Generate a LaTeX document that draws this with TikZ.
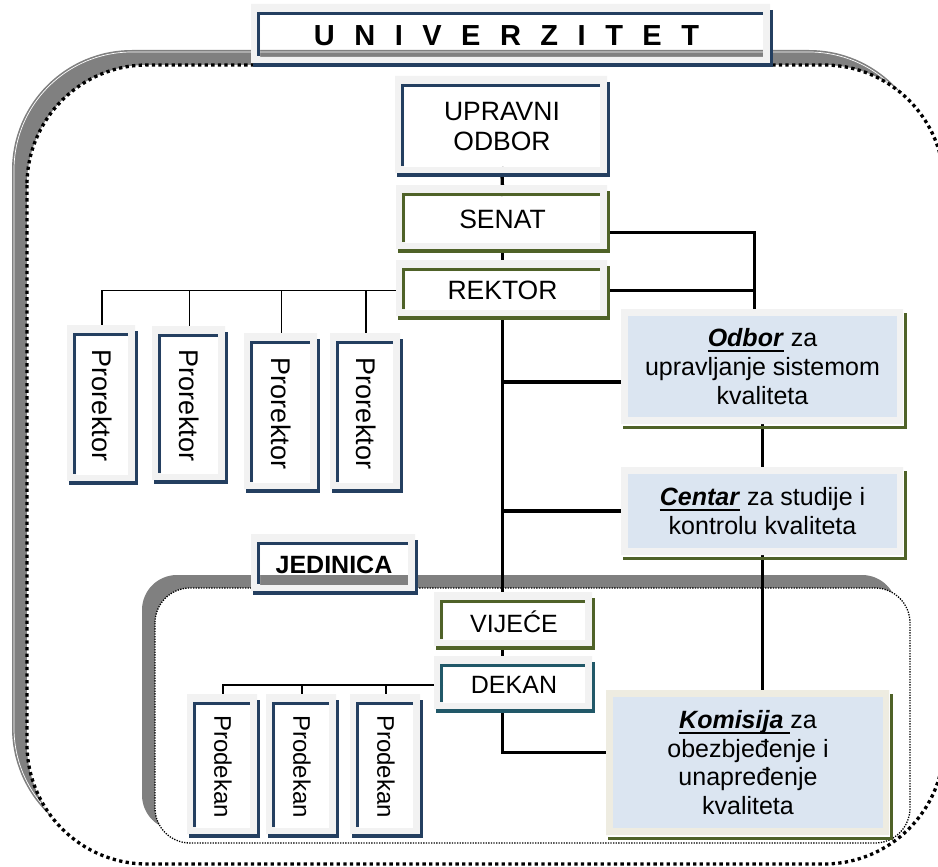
\documentclass[tikz,border=0pt]{standalone}
\usepackage{fontspec}
\setmainfont{Liberation Sans}
\usepackage{graphicx}
\usetikzlibrary{calc}
\pgfdeclarelayer{frames}
\pgfdeclarelayer{conn}
\pgfdeclarelayer{deco}
\pgfsetlayers{frames,conn,deco,main}
\definecolor{navy}{HTML}{243F60}
\definecolor{olivegr}{HTML}{4F6228}
\definecolor{tealdk}{HTML}{215868}
\definecolor{lgray}{HTML}{F2F2F2}
\definecolor{beige}{HTML}{EEECE1}
\definecolor{lblue}{HTML}{DBE5F1}
\definecolor{bandgray}{HTML}{808080}
\newsavebox\ulbox
\newcommand\myul[1]{\sbox\ulbox{#1}\rlap{\rule[-5.5pt]{\wd\ulbox}{2.2pt}}\usebox\ulbox}
\newcommand\unigap{\kern19.5pt}
\newcommand\boxdeco[2]{%
 \fill[lgray, even odd rule] ($(#1.north west)+(-9,-11)$) rectangle ($(#1.south east)+(7,6)$) (#1.north west) rectangle (#1.south east);
 \draw[#2, line width=3pt] ($(#1.north west)+(-3,-1.5)$) -- ($(#1.north east)+(0,-1.5)$);
 \draw[#2, line width=3pt] ($(#1.north west)+(-1.5,-3)$) -- ($(#1.south west)+(-1.5,-1)$);
 \draw[#2, line width=3.5pt] ($(#1.north east)+(8.5,-5)$) -- ($(#1.south east)+(8.5,10)$);
 \draw[#2, line width=4pt] ($(#1.south west)+(-7,8)$) -- ($(#1.south east)+(10.25,8)$);
}
\newcommand\bluedeco[3]{%
 \fill[#2, even odd rule] ($(#1.north west)+(-7,-7)$) rectangle ($(#1.south east)+(6,7)$) (#1.north west) rectangle (#1.south east);
 \draw[#3, line width=3pt] ($(#1.north east)+(8,-3)$) -- ($(#1.south east)+(8,11)$);
 \draw[#3, line width=3pt] ($(#1.south west)+(-5,10)$) -- ($(#1.south east)+(9.5,10)$);
}
\begin{document}
\begin{tikzpicture}[x=1pt,y=-1pt,
  ibox/.style={inner sep=0pt, outer sep=0pt, align=center, text=black},
  hbox/.style={inner sep=0pt, outer sep=0pt, text=black},
  bigf/.style={font=\fontsize{26.5}{30}\selectfont},
  midf/.style={font=\fontsize{25}{28.7}\selectfont},
  conthick/.style={line width=3.4pt, black},
  conthin/.style={line width=1.9pt, black}]
\useasboundingbox (0,0) rectangle (938,867);

% ---------- frames ----------
\begin{pgfonlayer}{frames}
\fill[bandgray, rounded corners=120pt] (12,50) rectangle (929,848);
\draw[white, line width=0.7pt, rounded corners=118pt] (14,52) rectangle (927,846);
\fill[white, rounded corners=120pt] (27,65) rectangle (944,864);
\draw[black, line width=3.3pt, dash pattern=on 3.3pt off 3.3pt, rounded corners=120pt] (27,65) rectangle (944,864);
\fill[bandgray, rounded corners=35pt] (142,575) rectangle (897,830);
\fill[white, rounded corners=35pt] (155,588) rectangle (910,843);
\draw[black, line width=1.3pt, dash pattern=on 1.3pt off 1.3pt, rounded corners=35pt] (155,588) rectangle (910,843);
\end{pgfonlayer}

% ---------- nodes ----------
\node[hbox, minimum width=503pt, minimum height=42pt, font=\bfseries\fontsize{29}{32}\selectfont] (uni) at (511.5,36)
 {\kern-10pt U\unigap N\unigap I\unigap V\unigap E\unigap R\unigap Z\unigap I\unigap T\unigap E\unigap T};
\node[ibox, bigf, minimum width=196pt, minimum height=80pt] (upr) at (502,127) {UPRAVNI\\ODBOR};
\node[ibox, bigf, minimum width=195pt, minimum height=47pt] (sen) at (502.5,219.5) {SENAT};
\node[ibox, bigf, minimum width=195pt, minimum height=39pt] (rek) at (502.5,290.5) {REKTOR};

\node[hbox, font=\fontsize{27}{30}\selectfont, minimum width=52pt, minimum height=139pt] (pr1) at (102,405.5) {\rotatebox{-90}{Prorektor}};
\node[hbox, font=\fontsize{27}{30}\selectfont, minimum width=57pt, minimum height=137pt] (pr2) at (189.5,405.5) {\rotatebox{-90}{Prorektor}};
\node[hbox, font=\fontsize{27}{30}\selectfont, minimum width=57pt, minimum height=139pt] (pr3) at (281.5,413.5) {\rotatebox{-90}{Prorektor}};
\node[hbox, font=\fontsize{27}{30}\selectfont, minimum width=54pt, minimum height=139pt] (pr4) at (366,413.5) {\rotatebox{-90}{Prorektor}};

\node[ibox, midf, fill=lblue, minimum width=269pt, minimum height=101pt] (odb) at (762.5,366.5)
 {\myul{\textbf{\textit{Odbor}}} za\\upravljanje sistemom\\kvaliteta};
\node[ibox, midf, fill=lblue, minimum width=269pt, minimum height=74pt] (cen) at (762.5,511)
 {\myul{\textbf{\textit{Centar}}} za studije i\\kontrolu kvaliteta};

\node[hbox, font=\bfseries\fontsize{25}{28}\selectfont, minimum width=148pt, minimum height=40pt] (jed) at (334,565) {JEDINICA};
\node[ibox, midf, minimum width=142pt, minimum height=37pt] (vij) at (514,621.5) {VIJEĆE};
\node[ibox, midf, minimum width=142pt, minimum height=36pt] (dek) at (514,685) {DEKAN};

\node[ibox, midf, fill=lblue, minimum width=270pt, minimum height=131pt] (kom) at (748,762.5)
 {\myul{\textbf{\textit{Komisija}}\ }za\\obezbjeđenje i\\unapređenje\\kvaliteta};

\node[hbox, font=\fontsize{24}{28}\selectfont, minimum width=54pt, minimum height=123pt] (pd1) at (223,766.5) {\rotatebox{-90}{Prodekan}};
\node[hbox, font=\fontsize{24}{28}\selectfont, minimum width=54pt, minimum height=123pt] (pd2) at (302,766.5) {\rotatebox{-90}{Prodekan}};
\node[hbox, font=\fontsize{24}{28}\selectfont, minimum width=54pt, minimum height=123pt] (pd3) at (386,766.5) {\rotatebox{-90}{Prodekan}};

\coordinate (odbin) at ($(odb.north)+(-8,0)$);
\coordinate (senr) at ($(sen.east)+(0,13)$);
\coordinate (r1) at ($(odb.west)+(0,15.5)$);
\coordinate (dk) at ($(rek.south |- kom.west)+(0,-10)$);

% ---------- connectors ----------
\begin{pgfonlayer}{conn}
\draw[conthick] (upr.south) -- (sen.north);
\draw[conthick] (sen.south) -- (rek.north);
\draw[conthick] (senr) -| (odbin);
\draw[conthick] (rek.east) -- (rek.east -| odbin);
\draw[conthick] (rek.south) -- (rek.south |- vij.north);
\draw[conthick] (r1) -- (r1 -| rek.south);
\draw[conthick] (cen.west) -- (cen.west -| rek.south);
\draw[conthick] (odb.south) -- (cen.north);
\draw[conthick] (cen.south) -- (cen.south |- kom.north);
\draw[conthick] (rek.south |- vij.south) -- (rek.south |- dek.north);
\draw[conthick] (rek.south |- dek.south) -- (dk) -- (dk -| kom.west);
\draw[conthin] (rek.west) -| (pr1.north);
\draw[conthin] (rek.west -| pr2.north) -- (pr2.north);
\draw[conthin] (rek.west -| pr3.north) -- (pr3.north);
\draw[conthin] (rek.west -| pr4.north) -- (pr4.north);
\draw[conthin] (dek.west) -| (pd1.north);
\draw[conthin] (dek.west -| pd2.north) -- (pd2.north);
\draw[conthin] (dek.west -| pd3.north) -- (pd3.north);
\end{pgfonlayer}

% ---------- box decorations ----------
\begin{pgfonlayer}{deco}
\boxdeco{uni}{navy}
\boxdeco{upr}{navy}
\boxdeco{sen}{olivegr}
\boxdeco{rek}{olivegr}
\boxdeco{pr1}{navy}
\boxdeco{pr2}{navy}
\boxdeco{pr3}{navy}
\boxdeco{pr4}{navy}
\boxdeco{jed}{navy}
\boxdeco{vij}{olivegr}
\boxdeco{dek}{tealdk}
\boxdeco{pd1}{navy}
\boxdeco{pd2}{navy}
\boxdeco{pd3}{navy}
\bluedeco{odb}{lgray}{olivegr}
\bluedeco{cen}{lgray}{olivegr}
\bluedeco{kom}{beige}{olivegr}
\end{pgfonlayer}
\end{tikzpicture}
\end{document}
